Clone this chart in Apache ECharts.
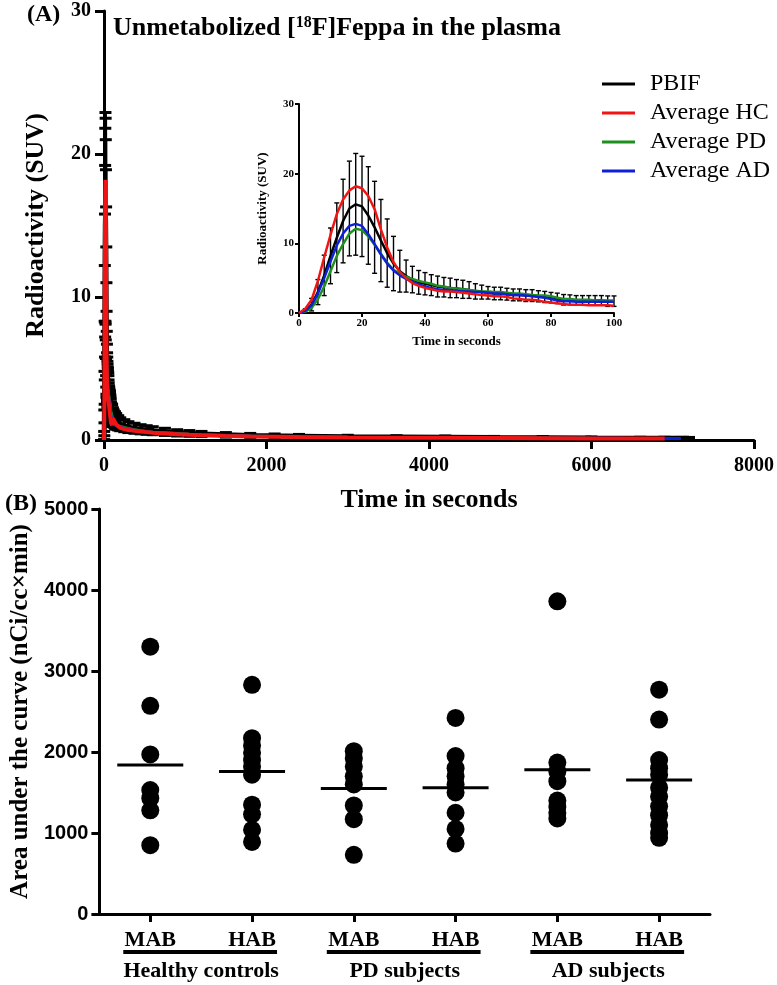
<!DOCTYPE html>
<html>
<head>
<meta charset="utf-8">
<script src="https://cdn.jsdelivr.net/npm/echarts@6/dist/echarts.min.js"></script>
<style>html,body{margin:0;padding:0;background:#fff}#chart{width:777px;height:985px}</style>
</head>
<body>
<div id="chart"></div>
<script>
// (A) plasma input function, first 100 s
var insetTime = [0, 2, 4, 6, 8, 10, 12, 14, 16, 18, 20, 22, 24, 26, 28, 30, 32, 34, 36, 38, 40, 42, 44, 46, 48, 50,
    52, 54, 56, 58, 60, 62, 64, 66, 68, 70, 72, 74, 76, 78, 80, 82, 84, 86, 88, 90, 92, 94, 96, 98, 100];
var pbifMean = [0, 0.3, 1.2, 3.0, 5.4, 8.2, 10.8, 13.2, 15.0, 15.6, 15.3, 14.0, 12.3, 10.4, 8.6, 7.1, 6.0, 5.3, 4.8, 4.4,
    4.2, 4.0, 3.8, 3.7, 3.6, 3.5, 3.4, 3.3, 3.1, 3.0, 2.9, 2.8, 2.8, 2.7, 2.6, 2.6, 2.5, 2.5, 2.4, 2.3, 2.2, 2.1, 1.9,
    1.9, 1.8, 1.8, 1.8, 1.8, 1.8, 1.7, 1.7];
var pbifSD = [0, 0.3, 0.9, 1.8, 2.9, 4.0, 5.0, 6.0, 6.8, 7.3, 7.2, 7.0, 6.6, 5.9, 4.9, 3.9, 3.0, 2.3, 1.9, 1.7,
    1.6, 1.5, 1.5, 1.4, 1.4, 1.3, 1.3, 1.2, 1.1, 1.0, 0.9, 0.9, 0.9, 0.85, 0.85, 0.85, 0.85, 0.85, 0.8, 0.8, 0.75, 0.75,
    0.75, 0.7, 0.7, 0.7, 0.7, 0.7, 0.7, 0.75, 0.75];
var hcMean = [0, 0.6, 1.9, 4.6, 8.0, 11.2, 14.2, 16.3, 17.6, 18.2, 17.9, 16.8, 14.9, 12.0, 9.4, 7.3, 5.9, 5.0, 4.3, 3.9,
    3.6, 3.4, 3.2, 3.1, 3.1, 3.0, 2.9, 2.8, 2.7, 2.6, 2.5, 2.4, 2.4, 2.3, 2.1, 2.0, 1.9, 1.9, 1.8, 1.6, 1.5, 1.4, 1.3,
    1.2, 1.2, 1.2, 1.1, 1.1, 1.1, 1.1, 1.05];
var pdMean = [0, 0.2, 0.7, 2.0, 3.8, 6.0, 8.2, 9.9, 11.4, 12.1, 11.9, 11.0, 9.8, 8.5, 7.2, 6.2, 5.6, 5.2, 4.9, 4.6,
    4.4, 4.2, 3.9, 3.8, 3.6, 3.5, 3.4, 3.3, 3.2, 3.1, 3.1, 3.0, 3.0, 2.9, 2.8, 2.8, 2.7, 2.6, 2.5, 2.5, 2.4, 2.2, 2.0,
    2.0, 1.9, 1.9, 1.9, 1.8, 1.8, 1.8, 1.8];
var adMean = [0, 0.3, 1.1, 2.8, 5.0, 7.4, 9.7, 11.4, 12.5, 12.8, 12.5, 11.3, 9.9, 8.4, 7.1, 6.1, 5.4, 4.9, 4.5, 4.1,
    3.8, 3.6, 3.4, 3.3, 3.3, 3.2, 3.1, 3.1, 3.0, 3.0, 2.9, 2.8, 2.8, 2.7, 2.6, 2.6, 2.5, 2.4, 2.3, 2.2, 2.0, 1.8, 1.7,
    1.7, 1.6, 1.6, 1.6, 1.6, 1.6, 1.6, 1.6];

// (A) tail after 100 s (main plot only)
var tailTime = [110, 120, 135, 150, 175, 200, 250, 300, 375, 450, 525, 600, 750, 900, 1050, 1200, 1500, 1800, 2100,
    2400, 3000, 3600, 4200, 4800, 5400, 6000, 6600, 6900, 7100, 7200];
var pbifTail = [1.6, 1.5, 1.4, 1.3, 1.2, 1.1, 1.0, 0.9, 0.82, 0.75, 0.7, 0.65, 0.57, 0.5, 0.46, 0.42, 0.36, 0.32, 0.29,
    0.27, 0.23, 0.21, 0.19, 0.17, 0.16, 0.14, 0.13, 0.13, 0.12, 0.12];
var pbifSDTail = [0.65, 0.6, 0.58, 0.55, 0.5, 0.45, 0.42, 0.38, 0.35, 0.32, 0.3, 0.28, 0.25, 0.22, 0.2, 0.18, 0.16, 0.14,
    0.13, 0.12, 0.1, 0.09, 0.09, 0.08, 0.08, 0.07, 0.06, 0.06, 0.06, 0.06];
var hcTail = [1.5, 1.6, 1.25, 1.1, 0.95, 0.85, 0.77, 0.7, 0.65, 0.6, 0.55, 0.5, 0.45, 0.4, 0.36, 0.33, 0.28, 0.25, 0.23,
    0.21, 0.18, 0.16, 0.15, 0.14, 0.13, 0.11, 0.1, 0.1, null, null];
var pdTail = [1.7, 1.2, 1.15, 1.1, 1.0, 0.95, 0.88, 0.8, 0.72, 0.65, 0.6, 0.55, 0.5, 0.45, 0.4, 0.37, 0.32, 0.28, 0.25,
    0.23, 0.2, 0.18, 0.17, 0.15, 0.14, 0.12, 0.11, 0.11, null, null];
var adTail = [1.5, 1.1, 1.05, 1.0, 0.95, 0.9, 0.82, 0.75, 0.68, 0.62, 0.57, 0.52, 0.47, 0.42, 0.38, 0.35, 0.3, 0.27, 0.24,
    0.22, 0.19, 0.17, 0.16, 0.14, 0.13, 0.12, 0.11, 0.11, 0.1, null];

// (B) area under the curve
var aucCategories = ['MAB', 'HAB', 'MAB', 'HAB', 'MAB', 'HAB'];
var aucGroups = ['Healthy controls', 'PD subjects', 'AD subjects'];
var hcMAB = [3300, 2570, 1970, 1530, 1430, 1280, 850];
var hcHAB = [2830, 2170, 2080, 1990, 1900, 1820, 1720, 1350, 1230, 1040, 890];
var pdMAB = [2010, 1920, 1820, 1700, 1600, 1340, 1170, 730];
var pdHAB = [2420, 1950, 1800, 1700, 1600, 1500, 1250, 1050, 870];
var adMAB = [3860, 1870, 1760, 1640, 1400, 1320, 1250, 1180];
var adHAB = [2770, 2400, 1900, 1800, 1720, 1560, 1450, 1330, 1220, 1100, 1000, 940];
var aucMeans = [1840, 1760, 1550, 1560, 1780, 1655];

var SERIF = '"Liberation Serif", "Times New Roman", serif';
var SANS = '"Liberation Sans", Arial, sans-serif';
var RED = '#f01414', GREEN = '#1f8f1f', BLUE = '#0f1fd6';

function pairs(t, v) {
    var out = [];
    for (var i = 0; i < t.length; i++) {
        if (v[i] != null) out.push([t[i], v[i]]);
    }
    return out;
}
function bars(t, m, s) {
    var out = [];
    for (var i = 0; i < t.length; i++) out.push([t[i], m[i] - s[i], m[i] + s[i]]);
    return out;
}
function errorBars(cap, lw) {
    return function (params, api) {
        var x = api.value(0);
        var lo = api.coord([x, api.value(1)]);
        var hi = api.coord([x, api.value(2)]);
        var st = {stroke: '#000', lineWidth: lw};
        return {type: 'group', children: [
            {type: 'line', shape: {x1: lo[0], y1: lo[1], x2: hi[0], y2: hi[1]}, style: st},
            {type: 'line', shape: {x1: hi[0] - cap, y1: hi[1], x2: hi[0] + cap, y2: hi[1]}, style: st},
            {type: 'line', shape: {x1: lo[0] - cap, y1: lo[1], x2: lo[0] + cap, y2: lo[1]}, style: st}
        ]};
    };
}
function line(name, data, color, w, xi, z) {
    return {name: name, type: 'line', xAxisIndex: xi, yAxisIndex: xi, data: data, symbol: 'none',
        lineStyle: {color: color, width: w}, itemStyle: {color: color}, z: z};
}
function plain(v) { return '' + v; }

var mainT = insetTime.concat(tailTime);
var dots = [];
[hcMAB, hcHAB, pdMAB, pdHAB, adMAB, adHAB].forEach(function (arr, i) {
    arr.forEach(function (v) { dots.push([i, v]); });
});

function valAxis(grid, min, max, step, lw, tick, font, size, margin, name, gap, nameSize) {
    return {
        gridIndex: grid, type: 'value', min: min, max: max, interval: step,
        axisLine: {show: true, onZero: false, lineStyle: {color: '#000', width: lw}},
        axisTick: {show: true, length: tick, lineStyle: {color: '#000', width: lw}},
        axisLabel: {color: '#000', fontFamily: font, fontWeight: 'bold', fontSize: size, margin: margin, formatter: plain},
        splitLine: {show: false},
        name: name, nameLocation: 'middle', nameGap: gap,
        nameTextStyle: {color: '#000', fontFamily: SERIF, fontWeight: 'bold', fontSize: nameSize}
    };
}

var chart = echarts.init(document.getElementById('chart'));
chart.setOption({
    animation: false,
    backgroundColor: '#fff',
    grid: [
        {left: 104, top: 11, width: 651, height: 429},
        {left: 299, top: 104, width: 315, height: 209},
        {left: 98, top: 509, width: 612, height: 405}
    ],
    legend: {
        data: ['PBIF', 'Average HC', 'Average PD', 'Average AD'],
        orient: 'vertical', left: 597, top: 67, icon: 'rect', itemWidth: 33, itemHeight: 3, itemGap: 5,
        selectedMode: false,
        textStyle: {color: '#000', fontFamily: SERIF, fontSize: 24, lineHeight: 24, padding: [0, 0, 0, 10]}
    },
    xAxis: [
        valAxis(0, 0, 8000, 2000, 3, 9, SERIF, 20, 16, 'Time in seconds', 47, 26),
        valAxis(1, 0, 100, 20, 2, 4, SERIF, 11, 5, 'Time in seconds', 22, 13),
        {
            gridIndex: 2, type: 'category', data: aucCategories, boundaryGap: true,
            axisLine: {show: true, lineStyle: {color: '#000', width: 3}},
            axisTick: {show: true, alignWithLabel: true, length: 8, lineStyle: {color: '#000', width: 3}},
            axisLabel: {color: '#000', fontFamily: SERIF, fontWeight: 'bold', fontSize: 22, margin: 15}
        }
    ],
    yAxis: [
        valAxis(0, 0, 30, 10, 3, 9, SERIF, 20, 13, 'Radioactivity (SUV)', 55, 26),
        valAxis(1, 0, 30, 10, 2, 4, SERIF, 11, 5, 'Radioactivity (SUV)', 30, 13),
        valAxis(2, 0, 5000, 1000, 3, 8, SANS, 20, 11, 'Area under the curve (nCi/cc\u00d7min)', 66, 25)
    ],
    series: [
        {type: 'custom', xAxisIndex: 0, yAxisIndex: 0, renderItem: errorBars(6, 3), z: 1,
            data: bars(mainT, pbifMean.concat(pbifTail), pbifSD.concat(pbifSDTail))},
        line('PBIF', pairs(mainT, pbifMean.concat(pbifTail)), '#000', 5, 0, 2),
        line('Average PD', pairs(mainT, pdMean.concat(pdTail)), GREEN, 3, 0, 3),
        line('Average AD', pairs(mainT, adMean.concat(adTail)), BLUE, 3, 0, 4),
        line('Average HC', pairs(mainT, hcMean.concat(hcTail)), RED, 4, 0, 5),

        {type: 'custom', xAxisIndex: 1, yAxisIndex: 1, renderItem: errorBars(2.5, 1.4), z: 1,
            data: bars(insetTime, pbifMean, pbifSD)},
        line('PBIF', pairs(insetTime, pbifMean), '#000', 2.5, 1, 2),
        line('Average PD', pairs(insetTime, pdMean), GREEN, 2.5, 1, 3),
        line('Average AD', pairs(insetTime, adMean), BLUE, 2.5, 1, 4),
        line('Average HC', pairs(insetTime, hcMean), RED, 2.5, 1, 5),

        {type: 'scatter', xAxisIndex: 2, yAxisIndex: 2, data: dots, symbolSize: 18,
            itemStyle: {color: '#000', opacity: 1}},
        {type: 'custom', xAxisIndex: 2, yAxisIndex: 2, z: 3,
            data: aucMeans.map(function (v, i) { return [i, v]; }),
            renderItem: function (params, api) {
                var p = api.coord([api.value(0), api.value(1)]);
                return {type: 'line', shape: {x1: p[0] - 33, y1: p[1], x2: p[0] + 33, y2: p[1]},
                    style: {stroke: '#000', lineWidth: 3}};
            }}
    ]
});

// panel letters, title, and the group underlines/labels under panel B
var gx = aucCategories.map(function (c, i) { return chart.convertToPixel({xAxisIndex: 2}, i); });
var graphics = [
    {type: 'text', left: 27, top: 3, style: {text: '(A)', fill: '#000', font: 'bold 24px ' + SERIF}},
    {type: 'text', left: 5, top: 492, style: {text: '(B)', fill: '#000', font: 'bold 24px ' + SERIF}},
    {type: 'text', left: 113, top: 15, style: {
        text: '{b|Unmetabolized [}{s|18}{b|F]Feppa in the plasma}',
        rich: {
            b: {fontSize: 26, fontWeight: 'bold', fontFamily: SERIF, fill: '#000', color: '#000'},
            s: {fontSize: 16, fontWeight: 'bold', fontFamily: SERIF, fill: '#000', color: '#000', padding: [0, 0, 11, 0]}
        }}}
];
aucGroups.forEach(function (g, k) {
    var a = gx[2 * k], b = gx[2 * k + 1];
    graphics.push({type: 'rect', shape: {x: a - 27, y: 950, width: b - a + 52, height: 4}, style: {fill: '#000'}});
    graphics.push({type: 'text', x: (a + b) / 2, y: 971, style: {
        text: g, fill: '#000', font: 'bold 22px ' + SERIF, textAlign: 'center', textVerticalAlign: 'middle'}});
});
chart.setOption({graphic: graphics});
</script>
</body>
</html>
